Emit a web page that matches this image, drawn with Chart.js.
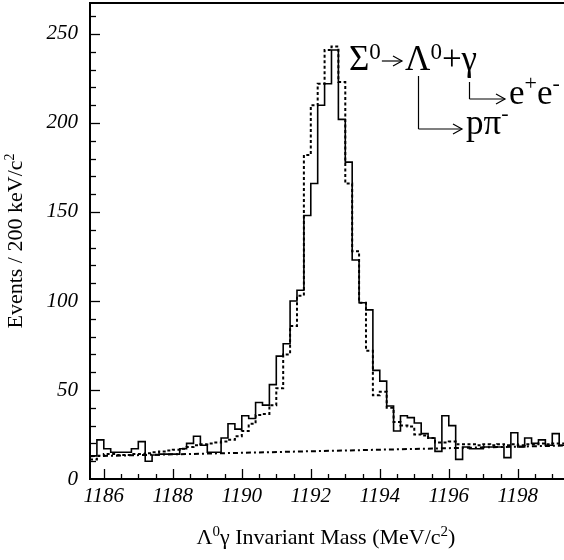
<!DOCTYPE html>
<html>
<head>
<meta charset="utf-8">
<script src="https://cdn.jsdelivr.net/npm/chart.js@4.4.1/dist/chart.umd.min.js"></script>
<style>
  html, body { margin: 0; padding: 0; background: #fff; }
  #sigmaChart { display: block; }
</style>
</head>
<body>
<canvas id="sigmaChart" width="564" height="560"></canvas>
<script>
// 200 keV bins starting at 1185.6 MeV/c^2
const binStart = 1185.6;
const binWidth = 0.2;

// measured data (solid histogram)
const dataEvents = [
  13, 22, 17, 15, 15, 15, 17, 21, 10, 13.5,
  14, 14, 14, 17, 20, 24, 19, 15, 15, 23,
  31, 28, 35.5, 34, 43, 41.5, 53, 69, 76, 100,
  106, 148, 166, 210, 222, 241, 202, 178, 123, 99,
  95, 61, 55, 41, 27, 35.5, 34.5, 31.5, 25.5, 23,
  15.5, 35.5, 30, 11, 18, 17, 17, 18, 18, 18,
  12, 26, 18, 23, 20, 22, 19, 25.5, 19
];

// simulation (dashed histogram)
const mcEvents = [
  11, 13, 14, 14, 13.5, 13.5, 14, 14, 14.5, 15,
  15.5, 16, 16.5, 17, 18, 19, 19.5, 20, 20.5, 21,
  22, 24, 27, 31, 36, 36.5, 41.5, 51, 70, 86,
  103, 182, 210, 222, 241, 243, 223, 166, 128, 99,
  72, 47, 49, 40, 32, 30, 29.5, 25, 24.5, 23,
  20.5, 20.5, 21, 19.5, 19.5, 19.5, 19, 19.5, 19, 19.5,
  19, 19.5, 19, 19.5, 19.5, 20, 19.5, 20, 20
];

// background (dash-dot line)
const bgMass = [1185.6, 1199.4];
const bgEvents = [12.8, 18.8];

const xTickLabels = [1186, 1188, 1190, 1192, 1194, 1196, 1198];
const yTickLabels = [0, 50, 100, 150, 200, 250];

const serif = '"Liberation Serif", "Times New Roman", serif';

function histPoints(values) {
  const pts = values.map((v, i) => ({ x: binStart + binWidth * i, y: v }));
  pts.push({ x: binStart + binWidth * values.length, y: values[values.length - 1] });
  return pts;
}

function line(ctx, x1, y1, x2, y2) {
  ctx.beginPath();
  ctx.moveTo(x1, y1);
  ctx.lineTo(x2, y2);
  ctx.stroke();
}

function arrowHead(ctx, x, y) {
  ctx.beginPath();
  ctx.moveTo(x - 9, y - 5);
  ctx.lineTo(x, y);
  ctx.lineTo(x - 9, y + 5);
  ctx.stroke();
}

// draws pieces of text one after another, returns x after the last piece
function drawRuns(ctx, runs, x, y, align) {
  let total = 0;
  runs.forEach(r => {
    ctx.font = r.size + 'px ' + serif;
    r.w = ctx.measureText(r.t).width;
    total += r.w;
  });
  let cx = align === 'center' ? x - total / 2 : x;
  runs.forEach(r => {
    ctx.font = r.size + 'px ' + serif;
    ctx.fillText(r.t, cx, y - (r.rise || 0));
    r.x = cx;
    cx += r.w;
  });
  return cx;
}

const decorations = {
  id: 'decorations',
  afterDraw(chart) {
    const ctx = chart.ctx;
    const { left, right, top, bottom } = chart.chartArea;
    const xs = chart.scales.x;
    const ys = chart.scales.y;

    ctx.save();
    ctx.strokeStyle = '#000';
    ctx.fillStyle = '#000';

    // top frame
    ctx.lineWidth = 2;
    line(ctx, left - 1, top, right, top);

    // inward ticks
    ctx.lineWidth = 1.3;
    for (let v = 1186; v <= 1199.3; v += 0.5) {
      const px = Math.round(xs.getPixelForValue(v)) + 0.5;
      const len = v % 2 === 0 ? 10 : 5;
      line(ctx, px, bottom, px, bottom - len);
    }
    for (let v = 10; v <= 260; v += 10) {
      const py = Math.round(ys.getPixelForValue(v)) + 0.5;
      const len = v % 50 === 0 ? 10 : 6;
      line(ctx, left, py, left + len, py);
    }

    // decay chain
    ctx.textBaseline = 'alphabetic';
    ctx.textAlign = 'left';
    ctx.lineWidth = 1.2;
    const sig = drawRuns(ctx, [{ t: 'Σ', size: 35 }, { t: '0', size: 23, rise: 11 }], 349, 70);
    line(ctx, sig + 1, 61, 402, 61);
    arrowHead(ctx, 402, 61);
    const lam = [{ t: 'Λ', size: 35 }, { t: '0', size: 23, rise: 11 }, { t: '+', size: 35 }, { t: 'γ', size: 35 }];
    drawRuns(ctx, lam, 405, 70);
    const lamX = Math.round(lam[0].x + lam[0].w / 2) + 0.5;
    line(ctx, lamX, 76, lamX, 129);
    line(ctx, lamX, 129, 462, 129);
    arrowHead(ctx, 462, 129);
    drawRuns(ctx, [{ t: 'pπ', size: 35 }, { t: '-', size: 22, rise: 14 }], 466, 134);

    const gamX = Math.round(lam[3].x + lam[3].w * 0.48) + 0.5;
    line(ctx, gamX, 82, gamX, 99);
    line(ctx, gamX, 99, 505, 99);
    arrowHead(ctx, 505, 99);
    drawRuns(ctx, [{ t: 'e', size: 35 }, { t: '+', size: 22, rise: 14 }, { t: 'e', size: 35 }, { t: '-', size: 22, rise: 14 }], 509, 104);

    // axis titles
    drawRuns(ctx, [
      { t: 'Λ', size: 22 }, { t: '0', size: 15, rise: 8 },
      { t: 'γ Invariant Mass (MeV/c', size: 22 }, { t: '2', size: 15, rise: 8 },
      { t: ')', size: 22 }
    ], 326, 544, 'center');

    ctx.translate(22, 241);
    ctx.rotate(-Math.PI / 2);
    drawRuns(ctx, [{ t: 'Events / 200 keV/c', size: 22 }, { t: '2', size: 14, rise: 8 }], 0, 0, 'center');
    ctx.restore();
  }
};

new Chart(document.getElementById('sigmaChart'), {
  type: 'line',
  data: {
    datasets: [
      {
        label: 'data',
        data: histPoints(dataEvents),
        stepped: true,
        borderColor: '#000',
        borderWidth: 1.6,
        pointRadius: 0,
        fill: false
      },
      {
        label: 'simulation',
        data: histPoints(mcEvents),
        stepped: true,
        borderColor: '#000',
        borderWidth: 2,
        borderDash: [3, 2.5],
        pointRadius: 0,
        fill: false
      },
      {
        label: 'background',
        data: bgMass.map((m, i) => ({ x: m, y: bgEvents[i] })),
        borderColor: '#000',
        borderWidth: 2,
        borderDash: [5, 3, 2, 3],
        pointRadius: 0,
        fill: false
      }
    ]
  },
  options: {
    responsive: false,
    animation: false,
    layout: { padding: { top: 3, right: 0, left: 0, bottom: 0 } },
    plugins: {
      legend: { display: false },
      tooltip: { enabled: false }
    },
    scales: {
      x: {
        type: 'linear',
        min: 1185.6,
        max: 1199.34,
        grid: { display: false, drawTicks: false },
        border: { display: true, color: '#000', width: 2 },
        afterBuildTicks: s => { s.ticks = xTickLabels.map(v => ({ value: v })); },
        afterFit: s => { s.height = 81; s.paddingLeft = 0; s.paddingRight = 0; },
        ticks: {
          color: '#000',
          padding: 5,
          maxRotation: 0,
          autoSkip: false,
          font: { family: serif, style: 'italic', size: 21 },
          callback: v => String(v)
        }
      },
      y: {
        min: 0,
        max: 267.4,
        grid: { display: false, drawTicks: false },
        border: { display: true, color: '#000', width: 2 },
        afterBuildTicks: s => { s.ticks = yTickLabels.map(v => ({ value: v })); },
        afterFit: s => { s.width = 90; s.paddingTop = 0; s.paddingBottom = 0; },
        ticks: {
          color: '#000',
          padding: 12,
          font: { family: serif, style: 'italic', size: 21 },
          callback: v => String(v)
        }
      }
    }
  },
  plugins: [decorations]
});
</script>
</body>
</html>
